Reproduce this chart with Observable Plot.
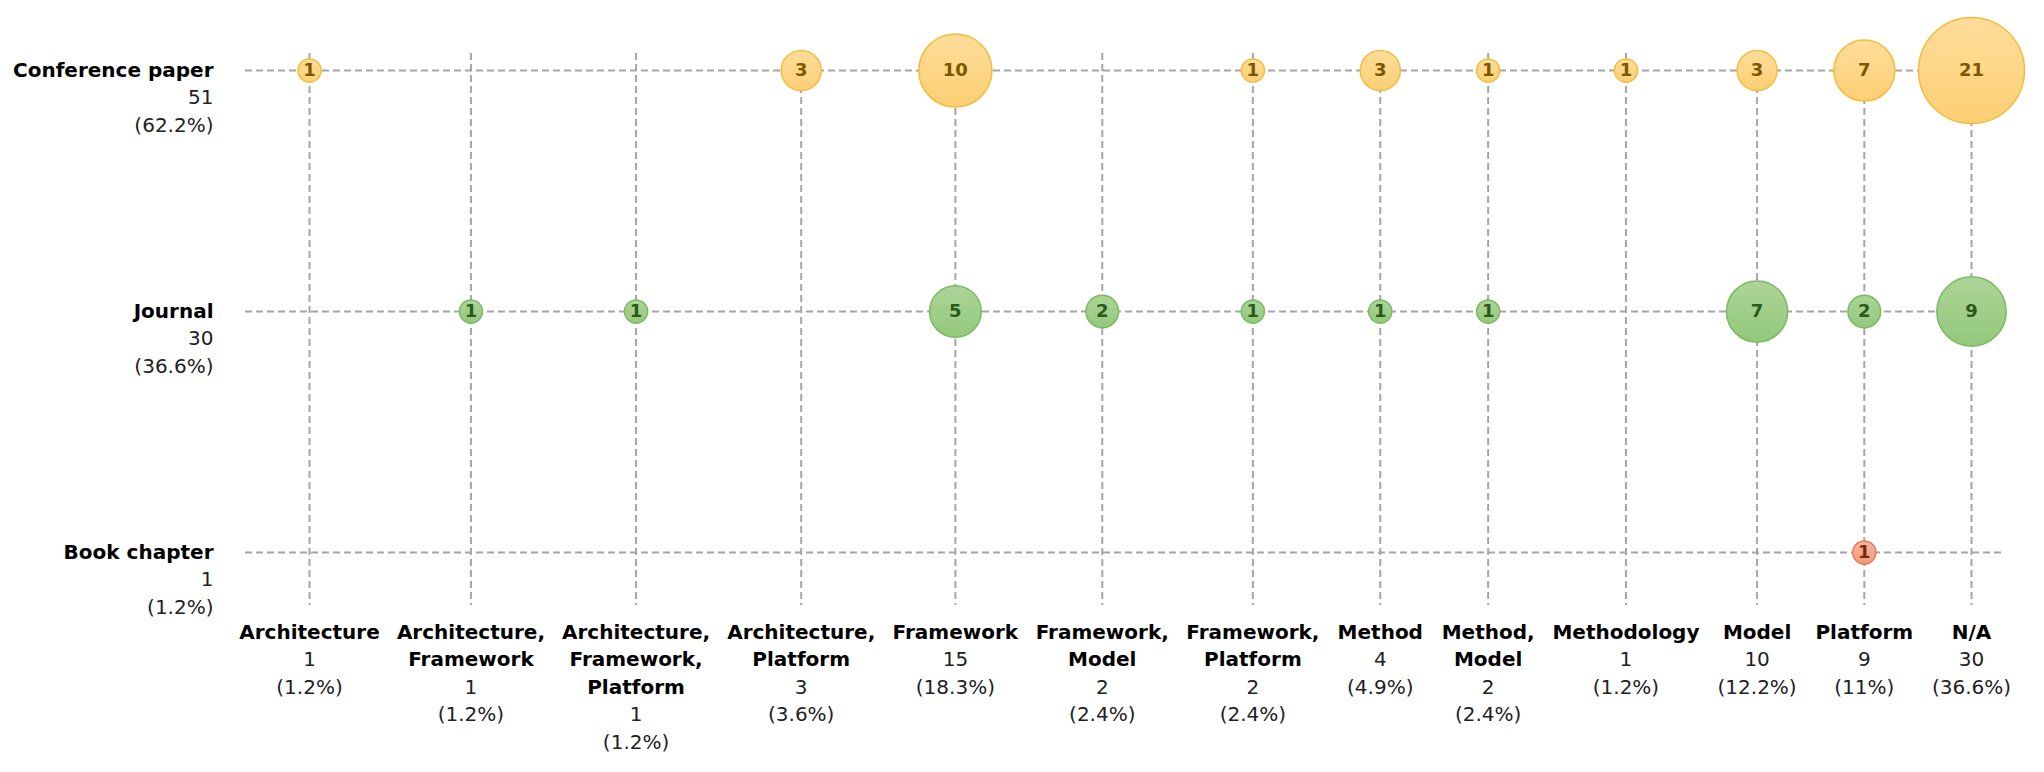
<!DOCTYPE html>
<html><head><meta charset="utf-8">
<script src="https://cdn.jsdelivr.net/npm/d3@7"></script>
<script src="https://cdn.jsdelivr.net/npm/@observablehq/plot@0.6"></script>
<style>body{margin:0;background:#fff;}</style>
</head><body><div id="chart"></div>
<script>
// ---- data ----
const types = ["Architecture","Architecture, Framework","Architecture, Framework, Platform","Architecture, Platform","Framework","Framework, Model","Framework, Platform","Method","Method, Model","Methodology","Model","Platform","N/A"];
const typeTotals = [1,1,1,3,15,2,2,4,2,1,10,9,30];
const typePct = ["1.2%","1.2%","1.2%","3.6%","18.3%","2.4%","2.4%","4.9%","2.4%","1.2%","12.2%","11%","36.6%"];
const venues = ["Conference paper","Journal","Book chapter"];
const venueTotals = [51,30,1];
const venuePct = ["62.2%","36.6%","1.2%"];
const conferenceCounts = [1,0,0,3,10,0,1,3,1,1,3,7,21];
const journalCounts    = [0,1,1,0,5,2,1,1,1,0,7,2,9];
const bookCounts       = [0,0,0,0,0,0,0,0,0,0,0,1,0];
const counts = [conferenceCounts, journalCounts, bookCounts];

// ---- styles ----
const palette = {
  "Conference paper": {top:"#fedd9a", bottom:"#fdcf74", stroke:"#f2bd3e", label:"#7a5800", id:"gConf"},
  "Journal": {top:"#acd597", bottom:"#93c87b", stroke:"#7cb963", label:"#2c5a1c", id:"gJour"},
  "Book chapter": {top:"#f8b69c", bottom:"#f29a79", stroke:"#e37858", label:"#7a2810", id:"gBook"}
};
const FONT = "'DejaVu Sans', Verdana, sans-serif";

// ---- layout of columns from label widths ----
const typeLines = types.map(t => t.split(", ").map((s,i,a) => i < a.length-1 ? s + "," : s));
const ctx = document.createElement("canvas").getContext("2d");
function maxW(lines, font){ ctx.font = font; return d3.max(lines, l => ctx.measureText(l).width); }
const widths = types.map((t,i) => Math.max(
  maxW(typeLines[i], "bold 20px " + FONT),
  maxW([String(typeTotals[i]), "(" + typePct[i] + ")"], "20px " + FONT)));
const pad = 22;
const pos = [];
widths.forEach((w,i) => pos.push(i === 0 ? 0 : pos[i-1] + (widths[i-1] + w)/2 + pad));

const cells = [];
venues.forEach((v,vi) => counts[vi].forEach((c,ti) => { if (c > 0) cells.push({venue:v, type:types[ti], x:pos[ti], n:c}); }));

const bubbleMarks = venues.flatMap(v => {
  const p = palette[v];
  const data = cells.filter(d => d.venue === v);
  return [
    Plot.dot(data, {x:"x", y:"venue", r:"n", fill:`url(#${p.id})`, stroke:p.stroke, strokeWidth:1.5}),
    Plot.text(data, {x:"x", y:"venue", text:d => String(d.n), fill:p.label, fontWeight:"bold", fontSize:18})
  ];
});

const plot = Plot.plot({
  width: 2044, height: 772,
  marginLeft: 309, marginRight: 73, marginTop: 69, marginBottom: 220,
  style: {fontFamily: FONT, fontSize: "20px", background: "#fff", color:"#000"},
  x: {domain: [0, pos[pos.length-1]], axis: null},
  y: {type: "point", domain: venues, axis: null, padding: 0},
  r: {type: "sqrt", domain: [0, 21], range: [0, 53]},
  marks: [
    Plot.ruleY(venues, {y: d => d, stroke:"#a6a6a6", strokeWidth:2, strokeDasharray:"7,4", insetLeft:-64, insetRight:-32}),
    Plot.ruleX(pos, {x: d => d, stroke:"#a6a6a6", strokeWidth:2, strokeDasharray:"7,4", insetTop:-16, insetBottom:-53}),
    ...bubbleMarks,
    Plot.text(venues, {y: d => d, frameAnchor:"left", dx:-96, textAnchor:"end", text: d => d, fontWeight:"bold", fill:"#000"}),
    Plot.text(venues, {y: d => d, frameAnchor:"left", dx:-96, textAnchor:"end", lineAnchor:"top", dy:14, lineHeight:1.4,
      text: (d,i) => venueTotals[i] + "\n(" + venuePct[i] + ")", fill:"#222"}),
    Plot.text(types, {x: (d,i) => pos[i], frameAnchor:"bottom", lineAnchor:"top", dy:67, lineHeight:1.37, fontWeight:"bold", fill:"#000",
      text: (d,i) => typeLines[i].join("\n")}),
    Plot.text(types, {x: (d,i) => pos[i], frameAnchor:"bottom", lineAnchor:"top", dy:67, lineHeight:1.37, fill:"#222",
      text: (d,i) => "\n".repeat(typeLines[i].length) + typeTotals[i] + "\n(" + typePct[i] + ")"})
  ]
});

// gradients
const svg = d3.select(plot);
const defs = svg.insert("defs", ":first-child");
Object.values(palette).forEach(p => {
  const g = defs.append("linearGradient").attr("id", p.id).attr("x1",0).attr("y1",0).attr("x2",0).attr("y2",1);
  g.append("stop").attr("offset","0%").attr("stop-color", p.top);
  g.append("stop").attr("offset","100%").attr("stop-color", p.bottom);
});
document.getElementById("chart").appendChild(plot);
</script>
</body></html>
